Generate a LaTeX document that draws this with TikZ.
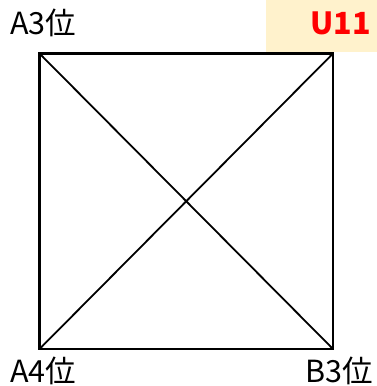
\documentclass[tikz,border=0pt]{standalone}
\usepackage{fontspec}
\setmainfont{Noto Sans CJK JP}
\usepackage{xcolor}
\usetikzlibrary{positioning}
\definecolor{unitRed}{HTML}{FF0000}
\definecolor{unitTag}{HTML}{FFF2CC}

\begin{document}
\begin{tikzpicture}[
  x=1pt, y=1pt,
  font=\fontsize{30.5}{32}\selectfont,
  corner/.style={inner sep=0pt, anchor=base west},
  tag/.style={inner sep=0pt, anchor=base east, text=unitRed, font=\fontsize{30.5}{32}\selectfont\bfseries},
  frame/.style={draw=black, line width=2.6pt},
  diag/.style={draw=black, line width=1.8pt}
]
  \useasboundingbox (0,0) rectangle (377,386);
  \fill[unitTag] (266,334) rectangle (377,386);

  \coordinate (nw) at (39.5,332.5);
  \coordinate (ne) at (333,332.5);
  \coordinate (sw) at (39.5,37);
  \coordinate (se) at (333,37);

  \draw[frame] (nw) -- (ne) -- (se) -- (sw) -- cycle;
  \draw[diag] (nw) -- (se);
  \draw[diag] (sw) -- (ne);

  \node[corner] (a3) at (10,351) {A3位};
  \node[tag] (unit) at (371,351) {U11};
  \node[corner] (a4) at (10,4) {A4位};
  \node[corner, anchor=base east] (b3) at (373,4) {B3位};
\end{tikzpicture}
\end{document}
